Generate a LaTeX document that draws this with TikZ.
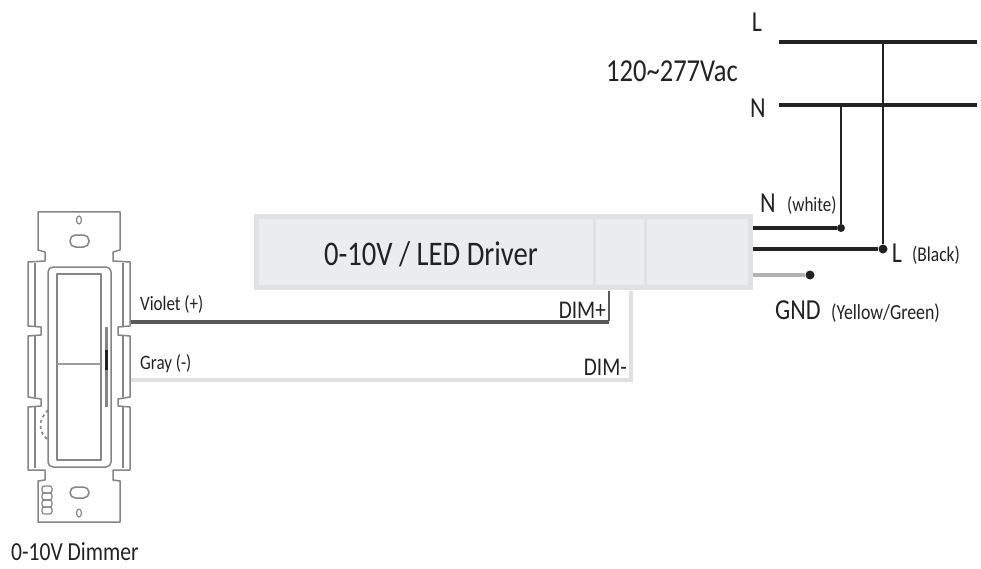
\documentclass[tikz,border=0pt]{standalone}
\usepackage{fontspec}
\setmainfont{Carlito}
\definecolor{boxfill}{HTML}{EBECEE}
\definecolor{boxline}{HTML}{E0E1E3}
\definecolor{ink}{HTML}{222222}
\definecolor{plate}{HTML}{858585}
\tikzset{
  lab/.style={inner sep=0pt,text=ink,xscale=.83,font=\fontsize{#1}{#1}\selectfont},
  mainwire/.style={draw=ink,line width=3.6pt},
  busline/.style={draw=ink,line width=3.4pt},
  dropwire/.style={draw=ink,line width=2.4pt},
  dot/.style={circle,fill=ink,minimum size=8pt,inner sep=0pt},
  plateline/.style={draw=plate,line width=1.5pt,line join=round},
}
\begin{document}
\begin{tikzpicture}[x=1pt,y=-1pt]
\useasboundingbox (0,0) rectangle (981,569);
% driver
\node[draw=boxline,fill=boxfill,line width=5pt,minimum width=494pt,minimum height=71pt,inner sep=0pt,anchor=north west] (driver) at (254,214) {};
\draw[boxline,line width=3pt] (594,216) -- (594,288) (645,216) -- (645,288);
\node[lab=34.5,anchor=center] (title) at (431,254) {0-10V / LED Driver};
% mains
\coordinate (Ls) at (779,42); \coordinate (Le) at (977,42);
\coordinate (Ns) at (779,105); \coordinate (Ne) at (977,105);
\draw[busline] (Ls) -- (Le);
\draw[busline] (Ns) -- (Ne);
\node[dot,minimum size=8pt] (nd) at (841,228) {};
\node[dot,minimum size=9pt] (ld) at (883,249) {};
\node[dot,minimum size=9pt] (gd) at (810,275) {};
\coordinate (Nt) at (841,105); \coordinate (Lt) at (883,42);
\draw[dropwire] (Nt) -- (nd);
\draw[dropwire] (Lt) -- (ld);
\draw[mainwire] (753,228) -- (nd);
\draw[mainwire] (753,249) -- (ld);
\draw[draw=gray!60,line width=3.6pt] (753,275) -- (gd);
% dim wires
\coordinate (vs) at (131,322); \coordinate (vc) at (609,322); \coordinate (ve) at (609,291);
\coordinate (gs) at (131,380); \coordinate (gc) at (631,380); \coordinate (ge) at (631,291);
\draw[draw=black!65,line width=4pt] (vs) -- (vc);
\draw[draw=black!65,line width=2pt] ([yshift=1pt]vc) -- (ve);
\draw[draw=black!12,line width=3.4pt] (gs) -- (gc) -- (ge);
% labels
\node[lab=20.5,anchor=west] (violet) at (140,304) {Violet (+)};
\node[lab=20.5,anchor=west] (gray) at (140,364) {Gray (-)};
\node[lab=25.5,anchor=east] (dimp) at (606,310) {DIM+};
\node[lab=25.5,anchor=east] (dimm) at (627,367) {DIM-};
\node[lab=29,anchor=center] (ltop) at (757,22) {L};
\node[lab=29,anchor=center] (ntop) at (758,108) {N};
\node[lab=32,anchor=west] (volt) at (606,71) {120\textasciitilde277Vac};
\node[lab=29,anchor=center] (nlab) at (768,203) {N};
\node[lab=20.5,anchor=west] (nwhite) at (787,205) {(white)};
\node[lab=29,anchor=center] (llab) at (897,253) {L};
\node[lab=21,anchor=west] (lblack) at (912,255) {(Black)};
\node[lab=29,anchor=west] (gnd) at (775,310) {GND};
\node[lab=21.5,anchor=west] (yg) at (831,313) {(Yellow/Green)};
\node[lab=26,anchor=west] (dimmer) at (11,552) {0-10V Dimmer};
% dimmer plate
\draw[plateline,fill=white] (38,212) -- (120,212) -- (120,250) -- (113,252) -- (113,261) -- (130,262)
  -- (130,326) -- (118,327) -- (118,335) -- (130,336) -- (130,397) -- (118,399) -- (118,406) -- (130,407)
  -- (130,470) -- (113,470) -- (113,480) -- (120,481) -- (120,522) -- (38,522) -- (38,481) -- (45,480)
  -- (45,470) -- (28,470) -- (28,407) -- (41,406) -- (41,399) -- (28,397) -- (28,336) -- (41,335)
  -- (41,327) -- (28,326) -- (28,262) -- (45,261) -- (45,252) -- (38,250) -- cycle;
\draw[plateline] (35,263) -- (35,326) (35,336) -- (35,397) (35,407) -- (35,468) (123,263) -- (123,326) (123,336) -- (123,397) (123,407) -- (123,468);
\draw[plateline,rounded corners=5pt,fill=white] (48,267) rectangle (111,467);
\draw[plateline,line width=1.7pt] (57,274) rectangle (101,460);
\draw[plateline,line width=2pt,draw=plate!80] (57,364) -- (101,364);
\draw[draw=plate,line width=3pt] (106,327) -- (106,407);
\draw[draw=ink,line width=3pt] (106,350) -- (106,370);
\draw[plateline,line width=1.2pt] (79,220) ellipse (2.5 and 4);
\draw[plateline,rounded corners=5.5pt] (70,235) rectangle (89,247);
\draw[plateline,rounded corners=5.5pt] (70,487) rectangle (89,498);
\draw[plateline,line width=1.2pt] (79,513) ellipse (2.5 and 4);
\foreach \yy in {486,493,500,507}{\draw[plateline,line width=1.2pt,rounded corners=2.5pt] (42,\yy) rectangle (52,\yy+7);}
\draw[plateline,dashed,line width=1.6pt] (48,410) .. controls (38,420) and (38,432) .. (48,440);
\end{tikzpicture}
\end{document}
